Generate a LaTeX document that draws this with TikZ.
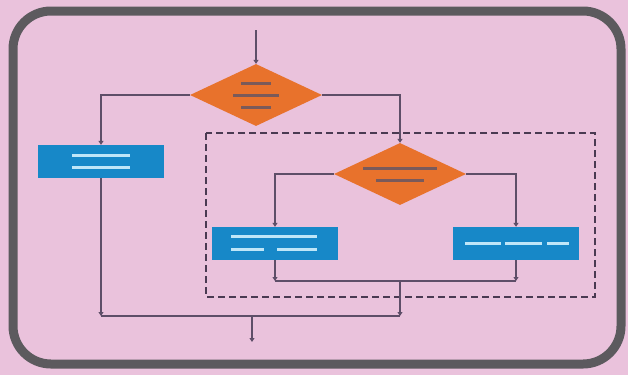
\documentclass[tikz,border=0pt]{standalone}
\usetikzlibrary{shapes.geometric,arrows.meta}
\definecolor{bgpink}{HTML}{EAC2DC}
\definecolor{framec}{HTML}{5C5A5E}
\definecolor{dorange}{HTML}{E8722C}
\definecolor{pblue}{HTML}{1788C8}
\definecolor{linc}{HTML}{5E4E68}
\definecolor{dashc}{HTML}{4A3A52}
\definecolor{inl}{HTML}{7A5A5A}
\definecolor{wl}{HTML}{BFE6F8}
\tikzset{
  dec/.style={diamond, fill=dorange, inner sep=0pt, minimum width=132pt, minimum height=62pt},
  proc/.style={rectangle, fill=pblue, inner sep=0pt, minimum width=126pt, minimum height=33pt},
  conn/.style={draw=linc, line width=1.3pt},
  arr/.style={conn, -{Triangle[length=4pt,width=5pt]}},
  dl/.style={draw=inl, line width=3pt},
  wline/.style={draw=wl, line width=2.6pt},
}
\begin{document}
\begin{tikzpicture}[x=1pt,y=-1pt]
\useasboundingbox (0,0) rectangle (628,375);
\fill[bgpink] (0,0) rectangle (628,375);
\draw[draw=framec, line width=9pt, rounded corners=38pt] (13,11) rectangle (621,364);
\draw[draw=dashc, line width=2.6pt, dash pattern=on 7pt off 4pt] (206,133) rectangle (595,297);

\node[dec] (d1) at (256,95) {};
\node[dec] (d2) at (400,174) {};
\node[proc] (b1) at (101,161.5) {};
\node[proc] (b2) at (275,243.5) {};
\node[proc] (b3) at (516,243.5) {};

\coordinate (top) at (256,30);
\coordinate (j2l) at (275,281);
\coordinate (j2r) at (516,281);
\coordinate (m2) at (400,281);
\coordinate (j1l) at (101,316);
\coordinate (j1r) at (400,316);
\coordinate (m1) at (252,316);
\coordinate (out) at (252,342);

% inner placeholder lines
\draw[dl] ([xshift=-15pt,yshift=12pt]d1.center) -- ([xshift=15pt,yshift=12pt]d1.center);
\draw[dl] ([xshift=-23pt]d1.center) -- ([xshift=23pt]d1.center);
\draw[dl] ([xshift=-15pt,yshift=-12pt]d1.center) -- ([xshift=15pt,yshift=-12pt]d1.center);
\draw[dl] ([xshift=-37pt,yshift=6pt]d2.center) -- ([xshift=37pt,yshift=6pt]d2.center);
\draw[dl] ([xshift=-24pt,yshift=-6pt]d2.center) -- ([xshift=24pt,yshift=-6pt]d2.center);
\draw[wline] ([xshift=-29pt,yshift=6pt]b1.center) -- ([xshift=29pt,yshift=6pt]b1.center);
\draw[wline] ([xshift=-29pt,yshift=-6pt]b1.center) -- ([xshift=29pt,yshift=-6pt]b1.center);
\draw[wline] ([xshift=-44pt,yshift=7pt]b2.center) -- ([xshift=42pt,yshift=7pt]b2.center);
\draw[wline] ([xshift=-44pt,yshift=-6pt]b2.center) -- ([xshift=-11pt,yshift=-6pt]b2.center);
\draw[wline] ([xshift=2pt,yshift=-6pt]b2.center) -- ([xshift=42pt,yshift=-6pt]b2.center);
\draw[wline] ([xshift=-51pt]b3.center) -- ([xshift=-15pt]b3.center);
\draw[wline] ([xshift=-11pt]b3.center) -- ([xshift=26pt]b3.center);
\draw[wline] ([xshift=31pt]b3.center) -- ([xshift=53pt]b3.center);

% connectors
\draw[arr] (top) -- (d1.north);
\draw[arr] (d1.west) -| (b1.north);
\draw[arr] (d1.east) -| (d2.north);
\draw[arr] (d2.west) -| (b2.north);
\draw[arr] (d2.east) -| (b3.north);
\draw[arr] (b2.south) -- (j2l);
\draw[arr] (b3.south) -- (j2r);
\draw[conn] (j2l) -- (j2r);
\draw[arr] (m2) -- (j1r);
\draw[arr] (b1.south) -- (j1l);
\draw[conn] (j1l) -- (j1r);
\draw[arr] (m1) -- (out);
\end{tikzpicture}
\end{document}
